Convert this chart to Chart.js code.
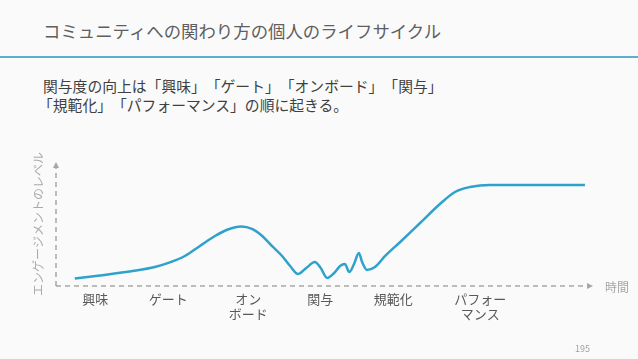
<!DOCTYPE html>
<html lang="ja">
<head>
<meta charset="utf-8">
<script src="https://cdn.jsdelivr.net/npm/chart.js@4.4.1/dist/chart.umd.min.js"></script>
<style>
  body { margin: 0; background: #fafafa; font-family: "Noto Sans CJK JP", "Noto Sans", sans-serif; }
  .slide { position: relative; width: 638px; height: 359px; overflow: hidden; text-spacing-trim: space-all; }
  .title { position: absolute; left: 43px; top: 20px; font-size: 17.4px; line-height: 21px; color: #5f5f5f; white-space: nowrap; }
  .rule { position: absolute; left: 0; top: 56px; width: 638px; height: 1.5px; background: #5bb0cc; }
  .lead { position: absolute; left: 43px; top: 76px; font-size: 14.8px; line-height: 19px; color: #404040; white-space: nowrap; }
  .lead span { display: block; }
  .lead span.second { margin-left: -5px; }
  .xname { position: absolute; left: 605px; top: 279px; font-size: 12px; line-height: 16px; color: #a6a6a6; }
  .page { position: absolute; left: 575px; top: 343px; font-size: 9px; line-height: 12px; color: #a0a0a0; }
  #wrap { position: absolute; left: 0; top: 140px; width: 638px; height: 200px; }
</style>
</head>
<body>
<div class="slide">
  <div class="title">コミュニティへの関わり方の個人のライフサイクル</div>
  <div class="rule"></div>
  <div class="lead"><span>関与度の向上は「興味」「ゲート」「オンボード」「関与」</span><span class="second">「規範化」「パフォーマンス」の順に起きる。</span></div>
  <div id="wrap"><canvas id="lifeChart" width="638" height="200"></canvas></div>
  <div class="xname">時間</div>
  <div class="page">195</div>
</div>
<script>
// 時間 (0-100) とエンゲージメントのレベル (0-100)
const time = [3.5, 8.2, 14.3, 18.4, 21.2, 24.0, 26.8, 29.6, 32.0, 34.5, 36.5, 38.4, 40.2, 42.1, 43.6, 45.1,
  46.6, 48.2, 49.3, 50.5, 51.8, 52.9, 53.8, 54.6, 55.5, 56.4, 57.0, 57.9, 59.4, 61.3, 64.1, 67.8, 71.5,
  74.3, 77.1, 80.8, 98.5];
const level = [6.0, 8.5, 12.1, 15.3, 19.0, 24.2, 32.3, 40.3, 45.6, 48.0, 46.0, 40.3, 32.3, 24.2, 16.1, 9.7,
  14.5, 19.4, 14.5, 6.5, 10.5, 16.1, 17.7, 11.3, 17.7, 26.6, 19.4, 12.9, 15.3, 24.2, 35.5, 50.8, 66.1,
  75.8, 79.8, 81.5, 81.5];
const stageAt = [7.3, 20.9, 35.8, 49.2, 62.8, 79.0];
const stageLabels = [['興味'], ['ゲート'], ['オン', 'ボード'], ['関与'], ['規範化'], ['パフォー', 'マンス']];

const axisGray = '#a6a6a6';

// 点線の軸と矢印
const dashedAxes = {
    id: 'dashedAxes',
    beforeDatasetsDraw(chart) {
        const {ctx, chartArea: a, scales} = chart;
        const x0 = scales.x.getPixelForValue(0);
        const y0 = scales.y.getPixelForValue(0);
        ctx.save();
        ctx.strokeStyle = axisGray;
        ctx.lineWidth = 1.5;
        ctx.setLineDash([5, 4]);
        ctx.beginPath();
        ctx.moveTo(x0, y0);
        ctx.lineTo(x0, a.top + 4);
        ctx.moveTo(x0, y0);
        ctx.lineTo(a.right - 4, y0);
        ctx.stroke();
        ctx.setLineDash([]);
        ctx.fillStyle = axisGray;
        ctx.beginPath();
        ctx.moveTo(x0, a.top);
        ctx.lineTo(x0 - 3, a.top + 6);
        ctx.lineTo(x0 + 3, a.top + 6);
        ctx.closePath();
        ctx.fill();
        ctx.beginPath();
        ctx.moveTo(a.right, y0);
        ctx.lineTo(a.right - 6, y0 - 3);
        ctx.lineTo(a.right - 6, y0 + 3);
        ctx.closePath();
        ctx.fill();
        ctx.restore();
    }
};

new Chart(document.getElementById('lifeChart'), {
    type: 'line',
    data: {
        datasets: [{
            data: time.map((t, i) => ({x: t, y: level[i]})),
            borderColor: '#2fa2cc',
            borderWidth: 2.5,
            pointRadius: 0,
            cubicInterpolationMode: 'monotone',
            fill: false
        }]
    },
    options: {
        responsive: false,
        animation: false,
        devicePixelRatio: 1,
        layout: { padding: { top: 22, right: 45, left: 0, bottom: 0 } },
        plugins: { legend: { display: false }, tooltip: { enabled: false } },
        scales: {
            x: {
                type: 'linear',
                min: 0,
                max: 100,
                afterBuildTicks: s => { s.ticks = stageAt.map(v => ({value: v})); },
                afterFit: s => { s.height = 54; },
                ticks: {
                    autoSkip: false,
                    maxRotation: 0,
                    padding: 6,
                    color: '#595959',
                    font: { family: 'Noto Sans CJK JP', size: 13, lineHeight: 1.15 },
                    callback: (v, i) => stageLabels[i]
                },
                grid: { display: false, drawTicks: false },
                border: { display: false }
            },
            y: {
                min: 0,
                max: 100,
                afterFit: s => { s.width = 56; },
                ticks: { display: false },
                grid: { display: false, drawTicks: false },
                border: { display: false },
                title: {
                    display: true,
                    text: 'エンゲージメントのレベル',
                    color: '#aaaaaa',
                    padding: { top: 31 },
                    font: { family: 'Noto Sans CJK JP', size: 12 }
                }
            }
        }
    },
    plugins: [dashedAxes]
});
</script>
</body>
</html>
